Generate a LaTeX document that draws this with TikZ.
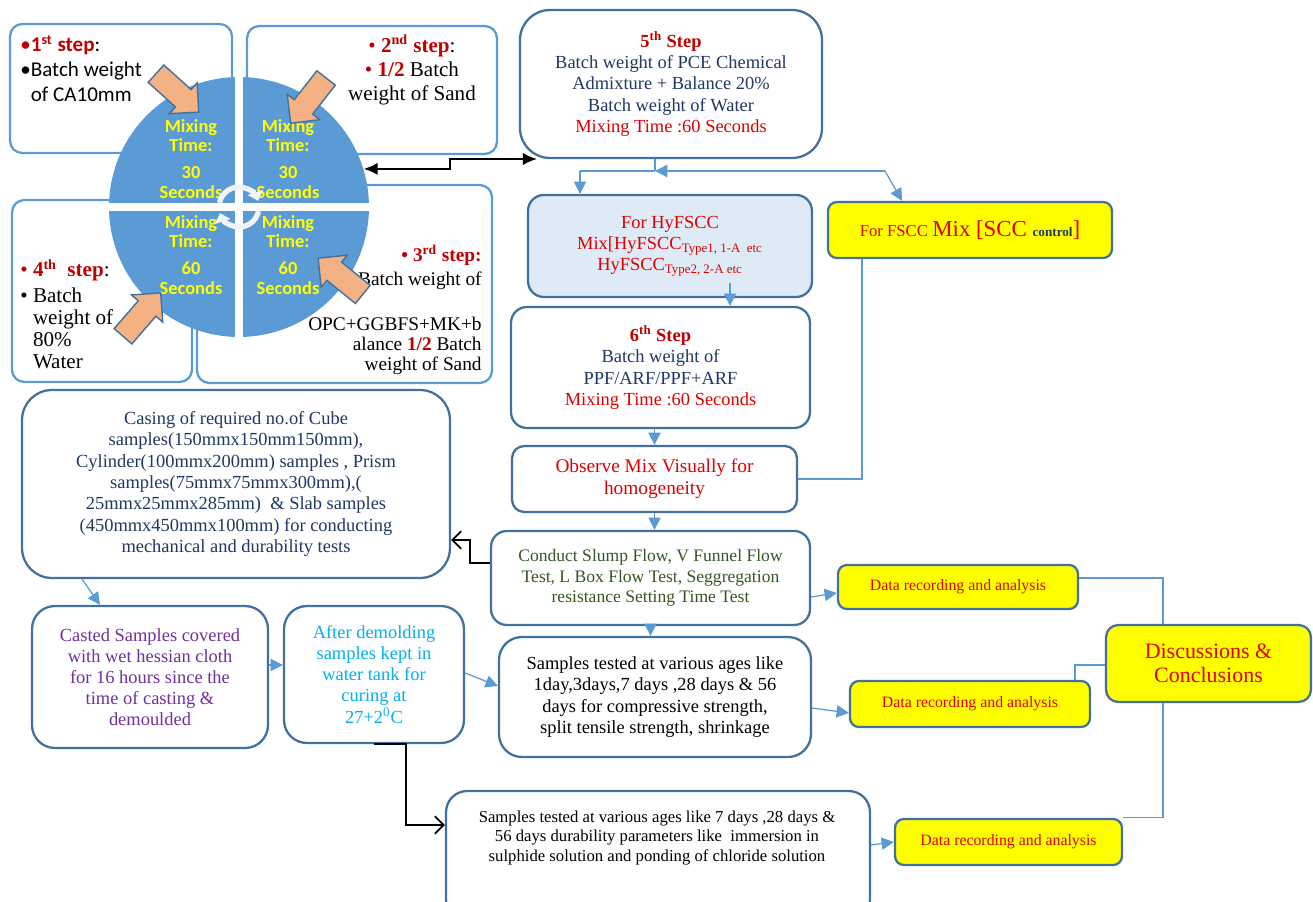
\documentclass[tikz,border=0pt]{standalone}
\usepackage{fontspec}
\setmainfont{Liberation Serif}
\newfontfamily\calib{Carlito}
\usepackage{tikz}
\usetikzlibrary{arrows.meta}
\usetikzlibrary{shapes.arrows}
\definecolor{pieblue}{HTML}{5B9BD5}
\definecolor{edgeblue}{HTML}{41719C}
\definecolor{darkred}{HTML}{C00000}
\definecolor{textred}{HTML}{E00000}
\definecolor{navytext}{HTML}{1F3864}
\definecolor{olivegreen}{HTML}{375623}
\definecolor{purp}{HTML}{7030A0}
\definecolor{cyantext}{HTML}{00B0F0}
\definecolor{paleblue}{HTML}{DEEBF7}
\definecolor{peach}{HTML}{F4B183}
\definecolor{hiyellow}{HTML}{FFFF00}
\tikzset{>=Latex}
\tikzset{stepbox/.style={draw=pieblue,line width=1.3pt,rounded corners=7pt,fill=white}}
\tikzset{flow/.style={draw=edgeblue,line width=1.3pt,fill=white,align=center,inner sep=2pt}}
\tikzset{yelbox/.style={flow,fill=hiyellow,rounded corners=5pt,text=textred}}
\tikzset{bline/.style={draw=pieblue,line width=0.7pt}}
\tikzset{barrow/.style={bline,-{Triangle[length=7pt,width=7pt]}}}
\tikzset{blk/.style={black,line width=1pt,-{Straight Barb[length=5pt,width=10pt]}}}
\tikzset{dbl/.style={black,line width=1.2pt,{Latex[length=8pt,width=7pt]}-{Latex[length=8pt,width=7pt]}}}
\tikzset{bigarrow/.style={single arrow,draw=edgeblue,line width=0.8pt,fill=peach,minimum height=1.15cm,minimum width=0.8cm,inner sep=0.22cm,single arrow head extend=0.18cm}}
\tikzset{quad/.style={text=hiyellow,font=\calib\bfseries\fontsize{10.5}{11.3}\selectfont,align=center}}
\tikzset{cyc/.style={white!90!pieblue,line width=3pt,-{Triangle[length=5pt,width=9pt]}}}

\begin{document}
\begin{tikzpicture}[x=0.02cm,y=-0.02cm]
                    \useasboundingbox (0,0) rectangle (1313,902);

                    \node[stepbox,minimum width=4.44cm,minimum height=2.58cm] (s1) at (121,88.5) {};
                    \node[stepbox,minimum width=5cm,minimum height=2.56cm] (s2) at (372,90) {};
                    \node[stepbox,minimum width=3.6cm,minimum height=3.64cm] (s4) at (102,291) {};
                    \node[stepbox,minimum width=5.9cm,minimum height=3.96cm] (s3) at (344.5,284) {};

                    \node[circle,fill=pieblue,minimum size=5.2cm,inner sep=0] (mix) at (239,207) {};
                    \draw[white,line width=4.5pt] (mix.north) -- (mix.south);
                    \draw[white,line width=5pt] (mix.west) -- (mix.east);

                    \node[quad] (q1) at (191,159) {Mixing\\Time:\\[4pt]30\\Seconds};
                    \node[quad] (q2) at (288,159) {Mixing\\Time:\\[4pt]30\\Seconds};
                    \node[quad] (q3) at (191,255) {Mixing\\Time:\\[4pt]60\\Seconds};
                    \node[quad] (q4) at (288,255) {Mixing\\Time:\\[4pt]60\\Seconds};

                    \node[anchor=north west,inner sep=0,align=left,font=\calib\fontsize{12}{14}\selectfont] (s1t) at (20,35) {\textcolor{darkred}{\textbullet\textbf{1\textsuperscript{st} step}}:\\ \textbullet Batch weight\\ \phantom{\textbullet}of CA10mm};
                    \node[inner sep=0,align=center,font=\fontsize{12}{13.6}\selectfont] (s2t) at (412,70) {\textcolor{darkred}{\textbullet\ \textbf{2\textsuperscript{nd} step}}:\\ \textcolor{darkred}{\textbullet\ \textbf{1/2}} Batch\\ weight of Sand};
                    \node[anchor=north east,inner sep=0,align=right,font=\fontsize{11}{11.5}\selectfont] (s3t) at (482,245) {\textcolor{darkred}{\textbf{\textbullet\ 3\textsuperscript{rd} step:}}\\[2pt] \textbullet\ Batch weight of\\[14pt] OPC+GGBFS+MK+b\\ alance \textcolor{darkred}{\textbf{1/2}} Batch\\ weight of Sand};
                    \node[anchor=north west,inner sep=0,align=left,font=\fontsize{12}{12.5}\selectfont] (s4t) at (20,259) {\textcolor{darkred}{\textbullet\ \textbf{4\textsuperscript{th}\ \ step}}:\\[2pt] \textbullet\ Batch\\ \phantom{\textbullet\ }weight of\\ \phantom{\textbullet\ }80\%\\ \phantom{\textbullet\ }Water};

                    \draw[cyc] ([shift={(168:0.4cm)}]mix.center) arc[start angle=168,end angle=18,radius=0.4cm];
                    \draw[cyc] ([shift={(-12:0.4cm)}]mix.center) arc[start angle=-12,end angle=-162,radius=0.4cm];

                    \node[bigarrow,rotate=-42] (o1) at (173,89) {};
                    \node[bigarrow,rotate=-128] (o2) at (312,96) {};
                    \node[bigarrow,rotate=141] (o3) at (345,280) {};
                    \node[bigarrow,rotate=49] (o4) at (138,319) {};

                    \node[flow,rounded corners=17pt,minimum width=6.04cm,minimum height=2.96cm,text=navytext,font=\fontsize{10.5}{12}\selectfont] (fifth) at (671,84) {\textcolor{darkred}{\textbf{5\textsuperscript{th} Step}}\\ Batch weight of PCE Chemical\\ Admixture + Balance 20\%\\ Batch weight of Water\\ \textcolor{textred}{Mixing Time :60 Seconds}};
                    \node[flow,fill=paleblue,rounded corners=9pt,minimum width=5.68cm,minimum height=2.04cm,text=textred,font=\fontsize{10.5}{12}\selectfont] (hyf) at (670,246) {For HyFSCC\\ Mix[HyFSCC\textsubscript{Type1, 1-A\ \ etc}\\ HyFSCC\textsubscript{Type2, 2-A etc}};
                    \node[yelbox,minimum width=5.68cm,minimum height=1.12cm] (fscc) at (970,230) {{\fontsize{9.5}{11}\selectfont For FSCC} {\fontsize{13}{15}\selectfont Mix [SCC {\fontsize{7.5}{9}\selectfont\bfseries\color{navytext}control}]}};
                    \node[flow,rounded corners=9pt,minimum width=5.98cm,minimum height=2.42cm,text=navytext,font=\fontsize{10.5}{12}\selectfont] (sixth) at (660.5,367.5) {\textcolor{darkred}{\textbf{6\textsuperscript{th} Step}}\\ Batch weight of\\ PPF/ARF/PPF+ARF\\ \textcolor{textred}{Mixing Time :60 Seconds}};
                    \node[flow,rounded corners=7pt,minimum width=5.7cm,minimum height=1.32cm,text=textred,font=\fontsize{11}{12.5}\selectfont] (observe) at (654.5,479) {Observe Mix Visually for\\ homogeneity};
                    \node[flow,rounded corners=9pt,minimum width=6.38cm,minimum height=1.88cm,text=olivegreen,font=\fontsize{10}{11.5}\selectfont] (conduct) at (650.5,578) {Conduct Slump Flow, V Funnel Flow\\ Test, L Box Flow Test, Seggregation\\ resistance Setting Time Test};
                    \node[flow,rounded corners=17pt,minimum width=8.56cm,minimum height=3.76cm,text=navytext,font=\fontsize{10.5}{12.1}\selectfont] (casing) at (236,484) {Casing of required no.of Cube\\ samples(150mmx150mm150mm),\\ Cylinder(100mmx200mm) samples , Prism\\ samples(75mmx75mmx300mm),(\\ 25mmx25mmx285mm)\ \ \& Slab samples\\ (450mmx450mmx100mm) for conducting\\ mechanical and durability tests};
                    \node[flow,rounded corners=13pt,minimum width=4.72cm,minimum height=2.84cm,text=purp,font=\fontsize{10.5}{12}\selectfont] (casted) at (150,677) {Casted Samples covered\\ with wet hessian cloth\\ for 16 hours since the\\ time of casting \&\\ demoulded};
                    \node[flow,rounded corners=13pt,minimum width=3.6cm,minimum height=2.74cm,text=cyantext,font=\fontsize{10.5}{12}\selectfont] (after) at (374,674.5) {After demolding\\ samples kept in\\ water tank for\\ curing at\\ 27+2\textsuperscript{0}C};
                    \node[flow,rounded corners=13pt,minimum width=6.24cm,minimum height=2.4cm,font=\fontsize{10.5}{12.1}\selectfont] (samp1) at (655,697) {Samples tested at various ages like\\ 1day,3days,7 days ,28 days \& 56\\ days for compressive strength,\\ split tensile strength, shrinkage};
                    \node[flow,rounded corners=12pt,minimum width=8.48cm,minimum height=2.6cm] (samp2) at (658,856) {};
                    \node[align=center,inner sep=0,font=\fontsize{9.5}{11.3}\selectfont] (samp2t) at (657,838) {Samples tested at various ages like 7 days ,28 days \&\\ 56 days durability parameters like\ \ immersion in\\ sulphide solution and ponding of chloride solution};

                    \node[yelbox,minimum width=4.8cm,minimum height=0.88cm,font=\fontsize{9}{10}\selectfont] (data1) at (958,587) {Data recording and analysis};
                    \node[yelbox,minimum width=4.8cm,minimum height=0.92cm,font=\fontsize{9}{10}\selectfont] (data2) at (970,704) {Data recording and analysis};
                    \node[yelbox,minimum width=4.54cm,minimum height=0.92cm,font=\fontsize{9}{10}\selectfont] (data3) at (1008.5,842) {Data recording and analysis};
                    \node[yelbox,rounded corners=7pt,minimum width=4.1cm,minimum height=1.54cm,font=\fontsize{12.5}{13.6}\selectfont] (disc) at (1208.5,663.5) {Discussions \&\\ Conclusions};

                    \coordinate (k5) at (450,159);
                    \coordinate (k6) at (537,159);
                    \draw[dbl] (mix.17) -- (mix.17 -| k5) -- (k5) -- (k6);

                    \coordinate (j0) at (655,171);
                    \coordinate (j1) at (580,171);
                    \coordinate (j2) at (885,171);
                    \coordinate (j3) at (902,0);
                    \draw[bline] (fifth.south -| j0) -- (j0);
                    \draw[barrow] (j2) -- (j0);
                    \draw[bline] (j0) -- (j1);
                    \draw[barrow] (j1) -- (hyf.north -| j1);
                    \draw[barrow] (j2) -- (fscc.north -| j3);

                    \coordinate (h1) at (730,283);
                    \draw[barrow] (h1) -- (sixth.north -| h1);
                    \draw[barrow] (sixth.south -| observe.north) -- (observe.north);
                    \draw[barrow] (observe.south) -- (observe.south |- conduct.north);
                    \draw[barrow] (conduct.south) -- (conduct.south |- samp1.north);

                    \coordinate (f1) at (862,0);
                    \draw[bline] (fscc.south -| f1) |- (observe.east);

                    \coordinate (k1) at (470,563);
                    \coordinate (k2) at (470,540);
                    \draw[blk] (conduct.west |- k1) -- (k1) -- (k2) -- (casing.east |- k2);

                    \coordinate (c1) at (82,0);
                    \coordinate (c2) at (100,0);
                    \draw[barrow] (casing.south -| c1) -- (casted.north -| c2);
                    \coordinate (a1) at (0,665);
                    \draw[barrow] (casted.east |- a1) -- (after.west |- a1);
                    \coordinate (a2) at (0,673);
                    \coordinate (a3) at (0,686);
                    \draw[barrow] (after.east |- a2) -- (samp1.west |- a3);

                    \coordinate (k3) at (406,825);
                    \draw[blk] (after.south) -| (k3) -- (samp2.west |- k3);

                    \coordinate (d1) at (0,597);
                    \coordinate (d2) at (0,593);
                    \draw[barrow] (conduct.east |- d1) -- (data1.west |- d2);
                    \coordinate (d3) at (0,708);
                    \coordinate (d4) at (0,713);
                    \draw[barrow] (samp1.east |- d3) -- (data2.west |- d4);
                    \coordinate (d5) at (0,845);
                    \coordinate (d6) at (0,842);
                    \draw[barrow] (samp2.east |- d5) -- (data3.west |- d6);

                    \coordinate (m1) at (1163,578);
                    \coordinate (m2) at (1075,665);
                    \draw[bline] (data1.east |- m1) -| (disc.north -| m1);
                    \draw[bline] (data2.north -| m2) |- (disc.west |- m2);
                    \draw[bline] (data3.north east) -| (disc.south -| m1);

                \end{tikzpicture}
\end{document}
